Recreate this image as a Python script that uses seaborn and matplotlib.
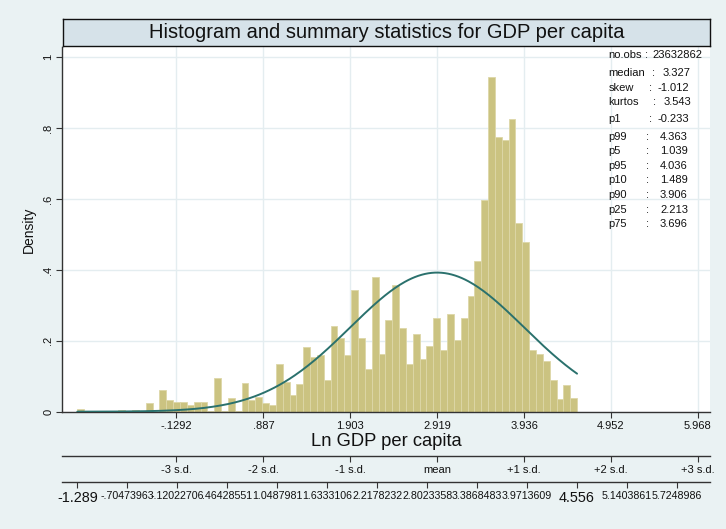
import numpy as np
import pandas as pd
import matplotlib
matplotlib.use("Agg")
import matplotlib.pyplot as plt
import seaborn as sns

# ---------------- data ----------------
title = "Histogram and summary statistics for GDP per capita"
x_label = "Ln GDP per capita"
y_label = "Density"

x_min = -1.28925217
x_max = 4.5558733
n_bins = 73

density = [
    0.009, 0.0, 0.0, 0.0, 0.0, 0.0, 0.005, 0.0, 0.006, 0.0,
    0.024, 0.0, 0.060, 0.033, 0.026, 0.026, 0.018, 0.026, 0.026, 0.002,
    0.094, 0.002, 0.039, 0.002, 0.080, 0.034, 0.041, 0.025, 0.020, 0.135,
    0.085, 0.047, 0.078, 0.182, 0.154, 0.161, 0.090, 0.241, 0.208, 0.159,
    0.343, 0.208, 0.121, 0.379, 0.162, 0.258, 0.357, 0.236, 0.135, 0.220,
    0.149, 0.184, 0.264, 0.175, 0.275, 0.203, 0.264, 0.326, 0.425, 0.598,
    0.944, 0.775, 0.768, 0.826, 0.533, 0.480, 0.173, 0.164, 0.144, 0.090,
    0.035, 0.074, 0.038,
]

mean_val = 2.9194
sd_val = 1.0162

sd_steps = [-3, -2, -1, 0, 1, 2, 3]
sd_value_labels = ["-.1292", ".887", "1.903", "2.919", "3.936", "4.952", "5.968"]
sd_axis_labels = ["-3 s.d.", "-2 s.d.", "-1 s.d.", "mean", "+1 s.d.", "+2 s.d.", "+3 s.d."]

range_steps = list(range(13))
range_labels = ["-1.289", "-.70473963", "-.12022706", ".46428551", "1.0487981",
                "1.6333106", "2.2178232", "2.8023358", "3.3868483", "3.9713609",
                "4.556", "5.1403861", "5.7248986"]
range_big = [0, 10]

y_ticks = [0, 0.2, 0.4, 0.6, 0.8, 1.0]
y_tick_labels = ["0", ".2", ".4", ".6", ".8", "1"]

stat_names = ["no.obs", "median", "skew", "kurtos", "p1", "p99", "p5", "p95",
              "p10", "p90", "p25", "p75"]
stat_values = ["23632862", "3.327", "-1.012", "3.543", "-0.233", "4.363", "1.039",
               "4.036", "1.489", "3.906", "2.213", "3.696"]

# ---------------- style ----------------
sns.set_theme(style="white")
plt.rcParams["font.family"] = ["Liberation Sans", "DejaVu Sans"]

bg = "#eaf2f3"
title_bg = "#d6e2e9"
grid_c = "#e4edf0"
bar_c = "#cbc381"
bar_edge = "#ddd7a8"
curve_c = "#2a716d"
axis_c = "#333333"
text_c = "#111111"

W, H = 726, 529


def fx(px):
    return px / W


def fy(py):
    return 1 - py / H


fig = plt.figure(figsize=(W / 100, H / 100), dpi=100, facecolor=bg)

L, R, T, B = 62.3, 710.0, 46.7, 411.7
xlim = (-1.4647, 6.1108)
ylim = (0.0, 1.030)

ax = fig.add_axes([fx(L), fy(B), fx(R) - fx(L), fy(T) - fy(B)])
ax.set_facecolor("white")

bin_w = (x_max - x_min) / n_bins
centers = [x_min + (i + 0.5) * bin_w for i in range(n_bins)]
df = pd.DataFrame({"x": centers, "w": density})

sns.histplot(data=df, x="x", weights="w", bins=n_bins, binrange=(x_min, x_max),
             stat="count", color=bar_c, edgecolor=bar_edge, linewidth=0.6,
             alpha=1.0, ax=ax, zorder=2)

curve_x = np.linspace(x_min, x_max, 300)
curve_y = np.exp(-0.5 * ((curve_x - mean_val) / sd_val) ** 2) / (sd_val * np.sqrt(2 * np.pi))
sns.lineplot(x=curve_x, y=curve_y, color=curve_c, linewidth=1.4, ax=ax, zorder=3)

ax.set_xlim(*xlim)
ax.set_ylim(*ylim)
sd_pos = [mean_val + k * sd_val for k in sd_steps]
ax.set_xticks(sd_pos)
ax.set_xticklabels(sd_value_labels)
ax.set_yticks(y_ticks)
ax.set_yticklabels(y_tick_labels)
ax.set_xlabel("")
ax.set_ylabel("")
ax.set_axisbelow(True)
ax.grid(True, color=grid_c, linewidth=1.0, zorder=0)
for s in ["top", "right"]:
    ax.spines[s].set_visible(False)
for s in ["left", "bottom"]:
    ax.spines[s].set_visible(True)
    ax.spines[s].set_color(axis_c)
    ax.spines[s].set_linewidth(1.0)
ax.tick_params(axis="both", which="major", direction="out", length=4.5, width=0.8,
               color=axis_c, labelsize=8, labelcolor=text_c, pad=2.0,
               bottom=True, left=True)
ax.tick_params(axis="y", labelrotation=90)
for lbl in ax.get_yticklabels():
    lbl.set_va("center")

# stats text
stat_y = [55, 73.3, 87.7, 102.3, 119.3, 136.7, 150.7, 165.7, 180, 195, 210, 224.3]
colon_x = [645, 652, 649, 653, 649, 646, 646, 646, 646, 646, 646, 646]
value_x = [652, 663, 657, 664, 657, 660, 660, 660, 660, 660, 660, 660]
for name, val, py, cx, vx in zip(stat_names, stat_values, stat_y, colon_x, value_x):
    fig.text(fx(608.3), fy(py), name, ha="left", va="center", fontsize=8, color=text_c)
    fig.text(fx(cx), fy(py), ":", ha="left", va="center", fontsize=8, color=text_c)
    fig.text(fx(vx), fy(py), val, ha="left", va="center", fontsize=8, color=text_c)


def extra_axis(py, positions, labels, fontsize):
    a = fig.add_axes([fx(L), fy(py), fx(R) - fx(L), 0.0001])
    a.patch.set_visible(False)
    for s in ["top", "left", "right"]:
        a.spines[s].set_visible(False)
    a.spines["bottom"].set_visible(True)
    a.spines["bottom"].set_color(axis_c)
    a.spines["bottom"].set_linewidth(1.0)
    a.set_xlim(*xlim)
    a.set_yticks([])
    a.set_xticks(positions)
    a.set_xticklabels(labels)
    a.tick_params(axis="x", direction="out", length=4.5, width=0.8, color=axis_c,
                  labelsize=fontsize, labelcolor=text_c, pad=2.0, bottom=True)
    a.grid(False)
    return a


ax2 = extra_axis(455.7, sd_pos, sd_axis_labels, 8)
step = (x_max - x_min) / 10
range_pos = [x_min + k * step for k in range_steps]
ax3 = extra_axis(481.7, range_pos, range_labels, 7.7)
for i, lbl in enumerate(ax3.get_xticklabels()):
    if i in range_big:
        lbl.set_fontsize(10.4)

# title box
tax = fig.add_axes([fx(63), fy(45.7), fx(710) - fx(63), fy(19) - fy(45.7)])
tax.set_facecolor(title_bg)
tax.set_xticks([])
tax.set_yticks([])
for s in tax.spines.values():
    s.set_visible(True)
    s.set_color("#111111")
    s.set_linewidth(1.0)
tax.text(0.5, 0.5, title, ha="center", va="center", fontsize=14.5, color=text_c,
         transform=tax.transAxes)

fig.text(fx(386), fy(441), x_label, ha="center", va="center", fontsize=13.2, color=text_c)
fig.text(fx(29.3), fy(230), y_label, ha="center", va="center", rotation=90,
         fontsize=10, color=text_c)

fig.savefig("out.png", dpi=100, facecolor=bg)
